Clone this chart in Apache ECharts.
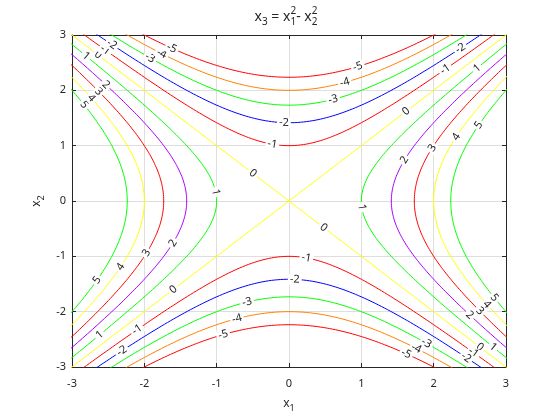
<!DOCTYPE html>
<html><head><meta charset="utf-8">
<script src="https://cdn.jsdelivr.net/npm/echarts@6.0.0/dist/echarts.min.js"></script>
<style>html,body{margin:0;padding:0;background:#fff}#c{width:560px;height:420px}</style>
</head><body><div id="c"></div>
<script>
// ---- data ----
const levels = [-5, -4, -3, -2, -1, 0, 1, 2, 3, 4, 5];
const levelColors = ['#ff0000','#ff8000','#00ff00','#0000ff','#ff0000','#ffff00','#00ff00','#aa00ff','#ff0000','#ffff00','#00ff00'];
const xTicks = [-3, -2, -1, 0, 1, 2, 3];
const yTicks = [-3, -2, -1, 0, 1, 2, 3];
// contour label spots: [level, x1, x2]
const labelSpots = [
  [-5, 0.95, 2.42], [-4, 0.77, 2.15], [-3, 0.61, 1.83], [-2, -0.07, 1.41], [-1, -0.23, 1.0],
  [-1, 2.16, 2.38], [-2, 2.37, 2.68], [1, 2.6, 2.4],
  [2, 1.6, 0.74], [3, 2.02, 0.96], [4, 2.34, 1.16], [5, 2.64, 1.37],
  [0, 1.62, 1.62], [0, -0.5, 0.5], [1, -1.01, 0.16],
  [-3, -1.92, 2.59], [-4, -1.76, 2.68], [-5, -1.62, 2.77],
  [0, -2.64, 2.64], [-1, -2.54, 2.73], [-2, -2.45, 2.83], [1, -2.8, 2.62],
  [5, -2.83, 1.74], [4, -2.72, 1.86], [3, -2.63, 1.98], [2, -2.54, 2.1],
  [5, 2.81, -1.75], [4, 2.72, -1.87], [3, 2.63, -1.99], [2, 2.5, -2.06],
  [0, 2.64, -2.64], [-1, 2.55, -2.74], [-2, 2.45, -2.83], [1, 2.82, -2.64],
  [-3, 1.9, -2.59], [-4, 1.76, -2.68], [-5, 1.62, -2.77],
  [1, 1.01, -0.11], [0, 0.47, -0.49], [-1, 0.24, -1.05], [-2, 0.08, -1.42],
  [-3, -0.58, -1.86], [-4, -0.72, -2.17], [-5, -0.91, -2.43],
  [2, -1.56, -0.76], [3, -1.97, -0.94], [4, -2.31, -1.19], [5, -2.6, -1.43],
  [0, -1.6, -1.6], [1, -2.63, -2.42], [-1, -2.1, -2.35], [-2, -2.31, -2.73]
];

// ---- the surface named in the title: x3 = x1^2 - x2^2, traced as level curves ----
function levelBranches(c) {
  const ts = [];
  for (let i = 0; i <= 340; i++) ts.push(-3.4 + i * 0.02);
  if (c < 0) {
    return [ts.map(t => [t, Math.sqrt(t * t - c)]), ts.map(t => [t, -Math.sqrt(t * t - c)])];
  } else if (c > 0) {
    return [ts.map(t => [Math.sqrt(c + t * t), t]), ts.map(t => [-Math.sqrt(c + t * t), t])];
  }
  return [ts.map(t => [t, t]), ts.map(t => [t, -t])];
}
function snap(c, x, y) {
  if (c < 0) return [x, Math.sign(y) * Math.sqrt(x * x - c)];
  if (c > 0) return [Math.sign(x) * Math.sqrt(c + y * y), y];
  const s = Math.sign(x * y) || 1, m = (x + s * y) / 2;
  return [m, s * m];
}

const FONT = '"Noto Sans", "DejaVu Sans", sans-serif';
const INK = '#262626';
const GL = 72, GT = 35, GR = 54, GB = 53;
const W = 560, H = 420, GW = W - GL - GR, GH = H - GT - GB;

const series = [];
levels.forEach((c, i) => {
  levelBranches(c).forEach(pts => {
    series.push({
      type: 'line', data: pts, xAxisIndex: 0, yAxisIndex: 0,
      showSymbol: false, symbol: 'none', silent: true, animation: false,
      lineStyle: { width: 1, color: levelColors[i] }, itemStyle: { color: levelColors[i] },
      z: 2
    });
  });
});
series.push({
  type: 'custom', coordinateSystem: 'cartesian2d', xAxisIndex: 0, yAxisIndex: 0,
  data: labelSpots.map(d => { const p = snap(d[0], d[1], d[2]); return [p[0], p[1], d[0]]; }),
  encode: { x: 0, y: 1 }, z: 10, silent: true, animation: false, clip: false,
  renderItem(params, api) {
    const x = api.value(0), y = api.value(1), lv = api.value(2);
    const p = api.coord([x, y]);
    const s = api.size([1, 1]);
    let ang = Math.atan2(x * s[1], y * s[0]);
    if (ang > Math.PI / 2) ang -= Math.PI;
    if (ang < -Math.PI / 2) ang += Math.PI;
    return {
      type: 'text', x: p[0], y: p[1], rotation: ang,
      style: { text: String(lv), fill: INK, font: '11px ' + FONT, align: 'center', verticalAlign: 'middle',
               backgroundColor: '#ffffff', padding: [0, 2] }
    };
  }
});

// math-like text (subscripts / superscripts) as graphic groups
const mctx = document.createElement('canvas').getContext('2d');
function tw(t, fs) { mctx.font = fs + 'px ' + FONT; return mctx.measureText(t).width; }
function mathText(pieces, cx, cy, rot, fs) {
  const sfs = Math.round(fs * 0.72);
  const children = [];
  let xpos = 0;
  pieces.forEach(pc => {
    if (pc.t !== undefined) {
      children.push({ type: 'text', x: xpos, y: 0, style: { text: pc.t, font: fs + 'px ' + FONT, fill: INK, verticalAlign: 'middle', align: 'left' } });
      xpos += tw(pc.t, fs);
    } else {
      let w = 0;
      if (pc.sup !== undefined) {
        children.push({ type: 'text', x: xpos, y: -fs * 0.42, style: { text: pc.sup, font: sfs + 'px ' + FONT, fill: INK, verticalAlign: 'middle', align: 'left' } });
        w = Math.max(w, tw(pc.sup, sfs));
      }
      if (pc.sub !== undefined) {
        children.push({ type: 'text', x: xpos, y: fs * 0.36, style: { text: pc.sub, font: sfs + 'px ' + FONT, fill: INK, verticalAlign: 'middle', align: 'left' } });
        w = Math.max(w, tw(pc.sub, sfs));
      }
      xpos += w;
    }
  });
  children.forEach(ch => { ch.x -= xpos / 2; });
  return { type: 'group', x: cx, y: cy, rotation: rot, children, silent: true };
}

const axisCommon = {
  type: 'value', min: -3, max: 3, interval: 1,
  axisLine: { show: true, onZero: false, lineStyle: { color: INK, width: 1 } },
  axisTick: { show: true, inside: true, length: 4, lineStyle: { color: INK } },
  splitLine: { show: false }
};

const option = {
  animation: false,
  backgroundColor: '#ffffff',
  grid: { left: GL, top: GT, right: GR, bottom: GB, containLabel: false },
  xAxis: [
    Object.assign({}, axisCommon, { position: 'bottom',
      axisLabel: { show: true, margin: 11, fontSize: 11, fontFamily: FONT, color: INK, formatter: v => (xTicks.includes(v) ? String(v) : '') },
      splitLine: { show: true, lineStyle: { color: '#dedede', width: 1 } } }),
    Object.assign({}, axisCommon, { position: 'top', axisLabel: { show: false } })
  ],
  yAxis: [
    Object.assign({}, axisCommon, { position: 'left',
      axisLabel: { show: true, margin: 6, fontSize: 11, fontFamily: FONT, color: INK, formatter: v => (yTicks.includes(v) ? String(v) : '') },
      splitLine: { show: true, lineStyle: { color: '#dedede', width: 1 } } }),
    Object.assign({}, axisCommon, { position: 'right', axisLabel: { show: false } })
  ],
  graphic: [
    mathText([{ t: 'x' }, { sub: '3' }, { t: ' = x' }, { sup: '2', sub: '1' }, { t: '- x' }, { sup: '2', sub: '2' }], GL + GW / 2 - 3, 17, 0, 14),
    mathText([{ t: 'x' }, { sub: '1' }], GL + GW / 2, 404, 0, 12),
    mathText([{ t: 'x' }, { sub: '2' }], 37, GT + GH / 2, Math.PI / 2, 12)
  ],
  series
};

const chart = echarts.init(document.getElementById('c'), null, { renderer: 'canvas', width: 560, height: 420 });
chart.setOption(option);
</script>
</body></html>
